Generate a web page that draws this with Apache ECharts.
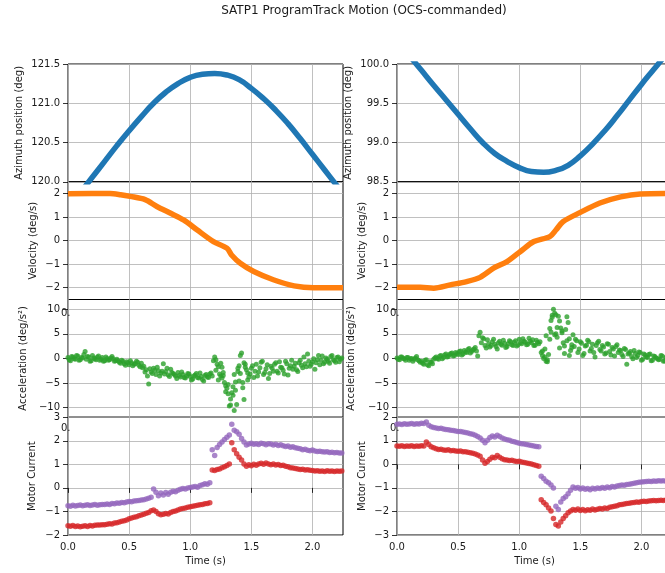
<!DOCTYPE html>
<html>
<head>
<meta charset="utf-8">
<title>SATP1 ProgramTrack Motion</title>
<script src="https://cdn.jsdelivr.net/npm/echarts@6.0.0/dist/echarts.min.js"></script>
<style>
  html, body { margin: 0; padding: 0; background: #fff; }
  #chart { width: 665px; height: 573px; }
</style>
</head>
<body>
<div id="chart"></div>
<script>
// ---- data ----
const chartTitle = 'SATP1 ProgramTrack Motion (OCS-commanded)'

// azimuth position (smooth curves)
const posTimes = [0, 0.1, 0.2, 0.3, 0.4, 0.5, 0.6, 0.7, 0.8, 0.9, 1.0, 1.1, 1.2, 1.3, 1.4, 1.5, 1.6, 1.7, 1.8, 1.9, 2.0, 2.1, 2.2, 2.25]
const posLeft = [119.66, 119.86, 120.06, 120.26, 120.46, 120.65, 120.83, 121.00, 121.14, 121.25, 121.33, 121.37, 121.38, 121.36, 121.30, 121.19, 121.06, 120.91, 120.74, 120.55, 120.35, 120.15, 119.95, 119.85]
const posRight = [100.31, 100.11, 99.92, 99.73, 99.545, 99.36, 99.175, 99.00, 98.86, 98.76, 98.68, 98.63, 98.62, 98.645, 98.71, 98.83, 98.98, 99.15, 99.34, 99.54, 99.74, 99.93, 100.12, 100.22]

// velocity
const velTimeL = [0, 0.344, 0.43, 0.508, 0.631, 0.727, 0.836, 0.945, 1.055, 1.19, 1.30, 1.34, 1.41, 1.52, 1.68, 1.85, 2.01, 2.25]
const velLeft = [1.99, 2.0, 1.95, 1.88, 1.74, 1.45, 1.17, 0.88, 0.46, -0.04, -0.32, -0.62, -0.96, -1.31, -1.66, -1.92, -2.0, -2.0]
const velTimeR = [0, 0.19, 0.30, 0.435, 0.57, 0.68, 0.79, 0.90, 1.01, 1.12, 1.25, 1.30, 1.36, 1.50, 1.66, 1.83, 1.99, 2.25]
const velRight = [-1.98, -1.98, -2.02, -1.88, -1.74, -1.56, -1.17, -0.89, -0.46, -0.04, 0.17, 0.45, 0.81, 1.20, 1.60, 1.86, 1.98, 2.0]

// sample times of the scatter series (s)
const sampleTimes = [
  0.00, 0.02, 0.04, 0.06, 0.08, 0.10, 0.12, 0.14, 0.16, 0.18,
  0.20, 0.22, 0.24, 0.26, 0.28, 0.30, 0.32, 0.34, 0.36, 0.38,
  0.40, 0.42, 0.44, 0.46, 0.48, 0.50, 0.52, 0.54, 0.56, 0.58,
  0.60, 0.62, 0.64, 0.66, 0.68, 0.70, 0.72, 0.74, 0.76, 0.78,
  0.80, 0.82, 0.84, 0.86, 0.88, 0.90, 0.92, 0.94, 0.96, 0.98,
  1.00, 1.02, 1.04, 1.06, 1.08, 1.10, 1.12, 1.14, 1.16, 1.18,
  1.20, 1.22, 1.24, 1.26, 1.28, 1.30, 1.32, 1.34, 1.36, 1.38,
  1.40, 1.42, 1.44, 1.46, 1.48, 1.50, 1.52, 1.54, 1.56, 1.58,
  1.60, 1.62, 1.64, 1.66, 1.68, 1.70, 1.72, 1.74, 1.76, 1.78,
  1.80, 1.82, 1.84, 1.86, 1.88, 1.90, 1.92, 1.94, 1.96, 1.98,
  2.00, 2.02, 2.04, 2.06, 2.08, 2.10, 2.12, 2.14, 2.16, 2.18,
  2.20, 2.22, 2.24
]
// in-between samples of the acceleration estimate
const midTimes = [
  0.01, 0.03, 0.05, 0.07, 0.09, 0.11, 0.13, 0.15, 0.17, 0.19,
  0.21, 0.23, 0.25, 0.27, 0.29, 0.31, 0.33, 0.35, 0.37, 0.39,
  0.41, 0.43, 0.45, 0.47, 0.49, 0.51, 0.53, 0.55, 0.57, 0.59,
  0.61, 0.63, 0.65, 0.67, 0.69, 0.71, 0.73, 0.75, 0.77, 0.79,
  0.81, 0.83, 0.85, 0.87, 0.89, 0.91, 0.93, 0.95, 0.97, 0.99,
  1.01, 1.03, 1.05, 1.07, 1.09, 1.11, 1.13, 1.15, 1.17, 1.19,
  1.21, 1.23, 1.25, 1.27, 1.29, 1.31, 1.33, 1.35, 1.37, 1.39,
  1.41, 1.43, 1.45, 1.47, 1.49, 1.51, 1.53, 1.55, 1.57, 1.59,
  1.61, 1.63, 1.65, 1.67, 1.69, 1.71, 1.73, 1.75, 1.77, 1.79,
  1.81, 1.83, 1.85, 1.87, 1.89, 1.91, 1.93, 1.95, 1.97, 1.99,
  2.01, 2.03, 2.05, 2.07, 2.09, 2.11, 2.13, 2.15, 2.17, 2.19,
  2.21, 2.23
]

// acceleration (deg/s^2)
const accLeft = [
  0.2, -0.5, 0.3, -0.2, 0.5, -0.3, 0.1, 1.4, 0.4, -0.6, 0.6, -0.1, 0.3, -0.4, 0.2, -0.5, 0.0, -0.3, 0.4, -0.6, -0.2,
  -0.8, -0.4, -1.1, -0.7, -1.3, -0.9, -1.2, -0.6, -1.4, -1.0,
  -1.6, -2.3, -5.2, -2.8, -2.0, -3.3, -2.5, -3.0, -1.1, -2.7, -3.4, -2.2, -3.1,
  -3.6, -2.9, -3.8, -3.3, -4.0, -3.1, -3.7, -4.2, -3.4, -3.9, -3.0, -4.3, -3.5, -3.8, -3.2,
  -3.6, 0.3, -1.2, -3.2, -1.8, -4.9, -6.1, -9.7, -7.0, -10.6, -9.4, -4.6, 1.1, -8.4, -2.3, -3.8,
  -2.0, -3.9, -1.2, -2.8, -0.8, -3.3, -2.1, -4.1, -1.6, -2.6,
  -0.9, -3.0, -1.8, -2.4, -0.6, -3.4, -1.5, -2.2, -1.0, -2.7,
  -0.4, -1.9, -1.1, 0.9, -1.6, -0.7, -2.2, -0.3, -1.3, 0.5,
  -0.8, -0.2, -1.0, 0.6, -0.5, 0.2, -0.7, 0.1
]
const accLeftMid = [
  -0.3, 0.4, -0.1, 0.6, -0.4, 0.2, 0.8, -0.2, 0.3, -0.5, 0.1, -0.3, 0.5, -0.2, -0.6, 0.3, -0.4, 0.1, -0.1, -0.5,
  -0.5, -1.0, -0.6, -1.4, -0.9, -0.5, -1.5, -1.1, -0.8, -1.7,
  -1.9, -2.8, -3.6, -2.1, -3.1, -2.4, -1.8, -3.6, -2.6, -3.2, -2.0, -3.7, -2.9,
  -3.3, -4.1, -3.5, -2.8, -3.9, -3.6, -3.2, -4.4, -3.6, -3.1, -4.0, -3.7, -4.6, -3.3, -3.9,
  -3.0, -0.5, -2.4, -4.4, -1.0, -3.5, -5.6, -7.2, -8.3, -5.8, -6.5, -2.0, -3.1, -6.0, -1.8, -4.4,
  -3.2, -1.5, -2.6, -3.6, -1.9, -0.6, -2.9, -1.3, -3.1, -2.0,
  -1.2, -2.6, -0.7, -1.9, -3.2, -1.1, -2.0, -0.4, -1.6, -2.3,
  -0.9, -1.4, 0.3, -1.7, -0.6, -1.2, -0.1, -0.9, 0.6, -0.4,
  -1.1, 0.1, -0.6, 0.4, -0.3, -0.8, 0.3, -0.2
]
const accLeftExtra = [
  [1.21, -0.3], [1.23, -1.7], [1.25, -3.6], [1.27, -2.9], [1.29, -6.8], [1.31, -5.3],
  [1.33, -9.5], [1.35, -7.5], [1.37, -4.8], [1.39, -2.7], [1.41, 0.6], [1.43, -4.9],
  [1.45, -1.2], [1.47, -3.0], [1.44, -0.9], [1.36, -3.3], [1.26, -4.0], [1.40, -1.5]
]
const accRight = [
  0.1, -0.3, 0.3, -0.1, 0.2, -0.4, 0.0, -0.2, 0.4, -0.5,
  -0.6, -1.2, -0.3, -1.5, -0.8, -0.2,
  0.3, -0.2, 0.6, 0.2, 0.9, 0.4, 1.0, 0.5, 1.2, 0.8, 1.5, 0.9, 1.3, 1.8, 1.1, 1.7, 2.2, 0.5,
  5.3, 4.2, 2.6, 3.8, 2.3, 3.4, 2.9, 1.9, 3.5, 2.7, 3.1, 2.4, 3.6, 2.8, 3.3, 2.5, 3.9, 3.0, 3.5, 2.8, 4.1, 3.2, 2.6, 3.7, 3.0,
  1.2, 0.0, 4.6, 0.8, 7.7, 10.0, 5.0, 8.6, 6.2, 3.2, 5.9, 7.3, 1.6, 4.8,
  3.9, 1.2, 3.4, 0.6, 2.5, 3.7, 1.5, 2.9, 0.3, 3.2,
  1.8, 2.6, 0.9, 3.0, 1.4, 2.2, 0.5, 2.8, 1.7, 0.8,
  2.0, -1.2, 1.1, 0.4, 1.6, 0.2, 1.3, -0.4, 0.9, 0.3,
  0.8, -0.5, 0.5, 0.1, -0.3, 0.6, -0.6, 0.2, -0.2, 0.0
]
const accRightMid = [
  -0.2, 0.3, 0.0, -0.4, 0.2, -0.1, -0.6, 0.1, -0.3, -0.8,
  -1.0, -0.4, -1.3, -0.7, -1.1, 0.1,
  0.0, 0.5, -0.1, 0.7, 0.3, 0.8, 1.1, 0.6, 1.0, 1.4, 0.7, 1.6, 1.2, 2.0, 1.4, 1.9, 1.5,
  4.6, 3.2, 4.0, 2.1, 3.0, 2.6, 3.9, 2.4, 3.2, 2.9, 3.7, 2.2, 3.0, 3.4, 2.6, 3.6, 2.8, 3.2, 4.0, 3.3, 2.9, 3.5, 3.8, 2.7, 3.3,
  3.4, 0.6, 1.9, -0.3, 6.1, 8.4, 9.2, 4.3, 7.6, 5.2, 2.5, 8.5, 4.0, 2.2,
  2.4, 3.6, 1.9, 3.1, 1.0, 2.7, 3.4, 2.0, 1.2, 2.6,
  3.5, 1.5, 2.3, 1.1, 2.9, 0.7, 1.9, 2.4, 1.2, 1.6,
  0.4, 1.8, 0.9, 1.4, -0.1, 1.0, 0.6, 1.2, -0.2, 0.7,
  0.2, 0.9, -0.4, 0.4, 0.0, -0.2, 0.5, -0.5, 0.3, -0.1
]
const accRightExtra = [
  [1.19, 1.5], [1.21, 0.3], [1.23, -0.7], [1.25, 3.9], [1.27, 8.8], [1.29, 4.8],
  [1.31, 6.3], [1.33, 2.1], [1.35, 5.6], [1.37, 1.0], [1.39, 3.6], [1.41, 0.6],
  [1.43, 2.8], [1.30, 8.9], [1.26, 5.4], [1.22, -0.6]
]

// motor current
const curLeftA = [
  -0.76, -0.78, -0.74, -0.77, -0.75, -0.73, -0.76, -0.74, -0.72, -0.75, -0.73, -0.71, -0.74,
  -0.72, -0.70, -0.71, -0.68, -0.70, -0.66, -0.67, -0.64, -0.65, -0.62, -0.63, -0.60, -0.58, -0.59,
  -0.56, -0.55, -0.53, -0.51, -0.50, -0.47, -0.44, -0.40,
  -0.05, -0.18, -0.33, -0.22, -0.30, -0.20, -0.27,
  -0.18, -0.14, -0.16, -0.10, -0.06, -0.03, -0.05, 0.00, 0.02, 0.04, 0.06, 0.03, 0.10, 0.13, 0.18, 0.15, 0.22,
  1.62, 1.38, 1.72, 1.84, 1.95, 2.05, 2.15, 2.25, 2.70, 2.45, 2.38, 2.28, 2.10, 1.95,
  1.82, 1.86, 1.90, 1.85, 1.88, 1.84, 1.90, 1.87, 1.83, 1.88,
  1.86, 1.82, 1.85, 1.80, 1.83, 1.79, 1.76, 1.78, 1.73, 1.75,
  1.70, 1.68, 1.66, 1.62, 1.64, 1.60, 1.58, 1.61, 1.57, 1.55,
  1.56, 1.53, 1.52, 1.54, 1.50, 1.51, 1.49, 1.50, 1.48, 1.48
]
const curLeftB = [
  -1.61, -1.63, -1.60, -1.64, -1.62, -1.65, -1.63, -1.61, -1.64, -1.60, -1.62, -1.59, -1.58,
  -1.58, -1.56, -1.57, -1.54, -1.52, -1.53, -1.49, -1.48, -1.45, -1.42, -1.40, -1.36, -1.31, -1.28,
  -1.25, -1.22, -1.18, -1.15, -1.12, -1.08, -1.04, -0.97,
  -0.94, -1.00, -1.10, -1.14, -1.12, -1.09, -1.11,
  -1.04, -1.00, -0.98, -0.94, -0.90, -0.88, -0.85, -0.82, -0.80, -0.78, -0.76, -0.74, -0.72, -0.70, -0.67, -0.66, -0.63,
  0.76, 0.74, 0.78, 0.80, 0.86, 0.90, 0.95, 1.02, 1.92, 1.62, 1.45, 1.30, 1.18, 1.02,
  0.92, 0.98, 0.94, 1.00, 0.96, 1.02, 1.05, 1.00, 1.06, 1.01,
  0.98, 1.02, 0.97, 0.99, 0.95, 0.96, 0.92, 0.90, 0.86, 0.84,
  0.82, 0.80, 0.78, 0.79, 0.76, 0.77, 0.75, 0.74, 0.72, 0.73,
  0.71, 0.72, 0.70, 0.73, 0.71, 0.72, 0.70, 0.72, 0.71, 0.72
]
const curRightA = [
  1.70, 1.71, 1.69, 1.72, 1.70, 1.71, 1.73, 1.70, 1.72, 1.71, 1.74, 1.73, 1.80,
  1.66, 1.60, 1.56, 1.54, 1.52, 1.53, 1.50, 1.48, 1.47, 1.45, 1.44, 1.42, 1.40, 1.39,
  1.37, 1.35, 1.33, 1.30, 1.28, 1.24, 1.18, 1.12,
  1.02, 0.92, 1.02, 1.14, 1.20, 1.16, 1.24,
  1.18, 1.12, 1.08, 1.04, 1.02, 0.98, 0.96, 0.93, 0.90, 0.88, 0.86, 0.84, 0.82, 0.80, 0.78, 0.76, 0.75,
  -0.50, -0.60, -0.72, -0.78, -0.88, -1.00, -1.78, -1.92, -1.60, -1.45, -1.38, -1.25, -1.10, -0.96,
  -1.02, -0.98, -1.05, -1.00, -1.06, -1.03, -1.08, -1.02, -1.05, -1.00,
  -1.03, -0.98, -1.01, -0.96, -0.99, -0.94, -0.96, -0.92, -0.90, -0.88,
  -0.89, -0.86, -0.84, -0.82, -0.80, -0.78, -0.76, -0.75, -0.74, -0.73,
  -0.72, -0.73, -0.71, -0.72, -0.70, -0.71, -0.70, -0.71, -0.70, -0.70
]
const curRightB = [
  0.78, 0.77, 0.79, 0.76, 0.78, 0.77, 0.79, 0.76, 0.78, 0.77, 0.79, 0.78, 0.95,
  0.84, 0.75, 0.70, 0.66, 0.63, 0.64, 0.61, 0.60, 0.62, 0.58, 0.59, 0.57, 0.56, 0.57,
  0.54, 0.53, 0.51, 0.49, 0.47, 0.44, 0.40, 0.34,
  0.18, 0.05, 0.12, 0.22, 0.30, 0.28, 0.38,
  0.30, 0.24, 0.20, 0.18, 0.16, 0.17, 0.14, 0.12, 0.13, 0.10, 0.08, 0.06, 0.04, 0.02, -0.02, -0.05, -0.08,
  -1.50, -1.62, -1.72, -1.85, -1.98, -2.30, -2.55, -2.62, -2.45, -2.30, -2.18, -2.05, -1.98, -1.92,
  -1.95, -1.90, -1.96, -1.92, -1.97, -1.93, -1.95, -1.90, -1.94, -1.91,
  -1.88, -1.90, -1.85, -1.87, -1.82, -1.80, -1.78, -1.76, -1.72, -1.70,
  -1.68, -1.66, -1.65, -1.63, -1.62, -1.60, -1.61, -1.58, -1.57, -1.58,
  -1.56, -1.55, -1.54, -1.55, -1.53, -1.52, -1.53, -1.52, -1.51, -1.52
]

// tick labels
const timeTicks = [0, 0.5, 1.0, 1.5, 2.0]
const posTicksL = [120.0, 120.5, 121.0, 121.5]
const posTicksR = [98.5, 99.0, 99.5, 100.0]
const velTicks = [-2, -1, 0, 1, 2]
const accTicks = [-10, -5, 0, 5, 10]
const curTicksL = [-2, -1, 0, 1, 2, 3]
const curTicksR = [-3, -2, -1, 0, 1, 2]

// ---- layout / style ----
const FONT = 'DejaVu Sans'
const TEXT = '#1a1a1a'
const GRID_LINE = '#b0b0b0'
const colLeft = [68, 397]
const plotWidth = 275
const rowTop = [64, 181.75, 299.5, 417.25]
const rowHeight = 117.75

function fmt(v, digits) {
  return (v < 0 ? '\u2212' : '') + Math.abs(v).toFixed(digits)
}
function pairs(ts, vs) {
  return ts.map((t, i) => [t, vs[i]])
}

const rowSpecs = [
  { name: 'Azimuth position (deg)', digits: 1, gap: [44, 44],
    range: [[120, 121.5], [98.5, 100]], ticks: [posTicksL, posTicksR] },
  { name: 'Velocity (deg/s)', digits: 0, gap: [30, 30],
    range: [[-2.5, 2.5], [-2.5, 2.5]], ticks: [velTicks, velTicks] },
  { name: 'Acceleration (deg/s\u00b2)', digits: 0, gap: [40, 41],
    range: [[-12, 12], [-12, 12]], ticks: [accTicks, accTicks] },
  { name: 'Motor Current', digits: 0, gap: [31, 30],
    range: [[-2, 3], [-3, 2]], ticks: [curTicksL, curTicksR] }
]

const grids = []
const xAxes = []
const yAxes = []
for (let c = 0; c < 2; c++) {
  for (let r = 0; r < 4; r++) {
    const idx = c * 4 + r
    const spec = rowSpecs[r]
    const bottom = r === 3
    grids.push({
      left: colLeft[c], top: rowTop[r], width: plotWidth, height: rowHeight,
      show: true, borderColor: '#000', borderWidth: 1, backgroundColor: 'transparent',
      outerBoundsMode: 'none', containLabel: false
    })
    xAxes.push({
      type: 'value', gridIndex: idx, min: 0, max: 2.25, interval: 0.5,
      name: bottom ? 'Time (s)' : '', nameLocation: 'middle', nameGap: 21,
      nameTextStyle: { fontFamily: FONT, fontSize: 10, color: TEXT },
      axisLine: { show: false },
      axisTick: { show: bottom, length: 5, customValues: timeTicks, lineStyle: { color: '#000', width: 0.8 } },
      axisLabel: { show: bottom, customValues: timeTicks, margin: 7, fontFamily: FONT, fontSize: 10, color: TEXT,
        formatter: v => v.toFixed(1) },
      splitLine: { show: true, lineStyle: { color: GRID_LINE, width: 0.8 } }
    })
    yAxes.push({
      type: 'value', gridIndex: idx, min: spec.range[c][0], max: spec.range[c][1],
      name: spec.name, nameLocation: 'middle', nameRotate: 90, nameGap: spec.gap[c],
      nameTextStyle: { fontFamily: FONT, fontSize: 10, color: TEXT },
      axisLine: { show: false },
      axisTick: { show: true, length: 5, customValues: spec.ticks[c], lineStyle: { color: '#000', width: 0.8 } },
      axisLabel: { customValues: spec.ticks[c], margin: 8, fontFamily: FONT, fontSize: 10, color: TEXT,
        formatter: v => fmt(v, spec.digits) },
      splitLine: { show: true, lineStyle: { color: GRID_LINE, width: 0.8 } }
    })
  }
}

function lineSeries(idx, data, color, smooth) {
  return {
    type: 'line', xAxisIndex: idx, yAxisIndex: idx, data, color,
    smooth, showSymbol: false, clip: true,
    lineStyle: { color, width: 5.5 }, z: 3
  }
}
function dotSeries(idx, data, color, size) {
  return {
    type: 'scatter', xAxisIndex: idx, yAxisIndex: idx, data, color,
    symbolSize: size, clip: true, itemStyle: { color }, z: 3
  }
}

const series = [
  lineSeries(0, pairs(posTimes, posLeft), '#1f77b4', 0.5),
  lineSeries(1, pairs(velTimeL, velLeft), '#ff7f0e', 0.3),
  dotSeries(2, pairs(sampleTimes, accLeft).concat(pairs(midTimes, accLeftMid), accLeftExtra), '#2ca02c', 5),
  dotSeries(3, pairs(sampleTimes, curLeftA), '#9467bd', 5.5),
  dotSeries(3, pairs(sampleTimes, curLeftB), '#d62728', 5.5),
  lineSeries(4, pairs(posTimes, posRight), '#1f77b4', 0.5),
  lineSeries(5, pairs(velTimeR, velRight), '#ff7f0e', 0.3),
  dotSeries(6, pairs(sampleTimes, accRight).concat(pairs(midTimes, accRightMid), accRightExtra), '#2ca02c', 5),
  dotSeries(7, pairs(sampleTimes, curRightA), '#9467bd', 5.5),
  dotSeries(7, pairs(sampleTimes, curRightB), '#d62728', 5.5)
]

// stray "0." fragments that peek out beside the upper ticks in the reference
const strayText = [[61, 313], [61, 428], [390, 313], [390, 428]].map(p => ({
  type: 'text', x: p[0], y: p[1], z: 1,
  style: { text: '0.', font: '10px "' + FONT + '"', fill: TEXT, align: 'left', verticalAlign: 'middle' }
}))

const chart = echarts.init(document.getElementById('chart'))
chart.setOption({
  animation: false,
  backgroundColor: '#fff',
  title: {
    text: chartTitle, left: 359, top: 0, textAlign: 'center',
    textStyle: { fontFamily: FONT, fontSize: 12, fontWeight: 'normal', color: TEXT }
  },
  grid: grids,
  xAxis: xAxes,
  yAxis: yAxes,
  series,
  graphic: strayText
})
</script>
</body>
</html>
